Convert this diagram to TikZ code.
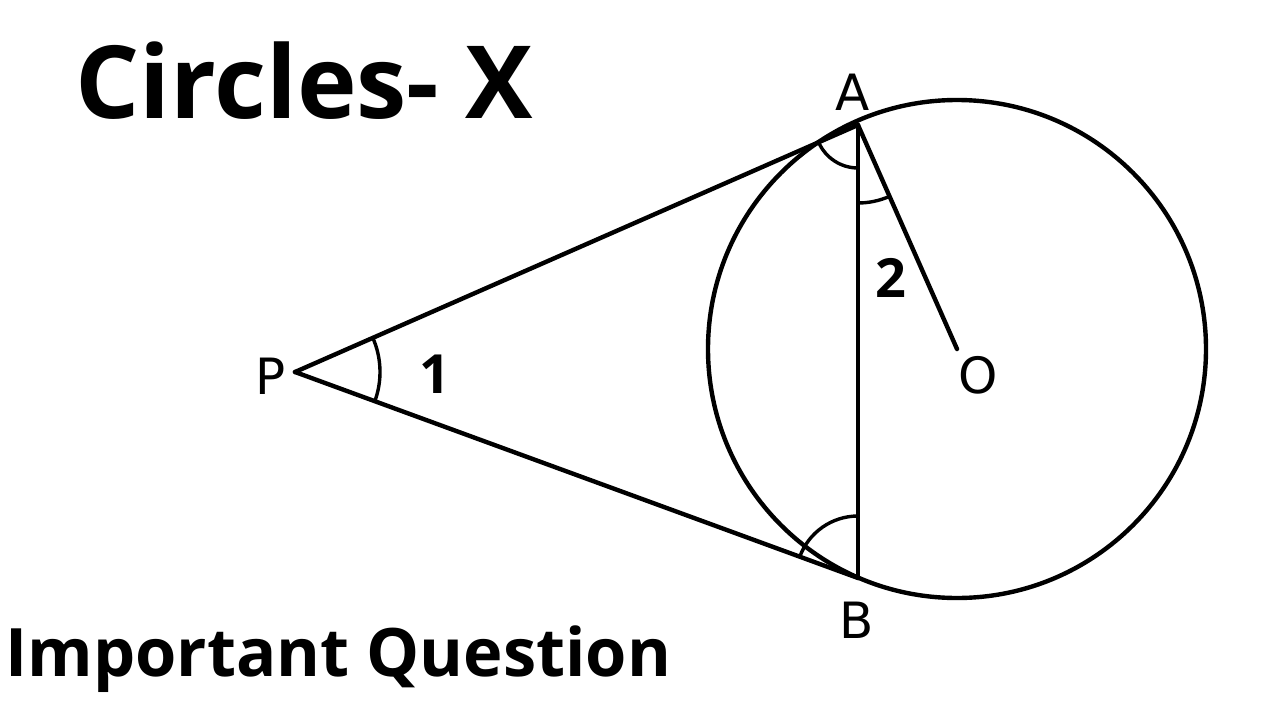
\documentclass[tikz,border=0pt]{standalone}
\usepackage{fontspec}
\setsansfont{Open Sans}
\newfontfamily\pointfont{DejaVu Sans}
\usetikzlibrary{angles}

\begin{document}
\begin{tikzpicture}[x=0.5pt, y=0.5pt,
    figline/.style={line width=2.2pt, line cap=round, line join=round},
    anglemark/.style={draw, line width=1.7pt},
    ptlabel/.style={inner sep=0pt, font=\pointfont\fontsize{25}{25}\selectfont},
    numlabel/.style={inner sep=0pt, font=\sffamily\bfseries\fontsize{27}{27}\selectfont},
    headline/.style={inner sep=0pt, anchor=base west, font=\sffamily\bfseries}]
        \useasboundingbox (0, 0) rectangle (1280, 720);
        % points of the figure
        \coordinate (P) at (295, 348);
        \coordinate (A) at (858, 595);
        \coordinate (B) at (858, 142);
        \coordinate (O) at (957, 371);
        % circle, tangents, chord and radius
        \draw[figline] (O) circle[radius=249];
        \draw[figline] (P) -- (A);
        \draw[figline] (P) -- (B);
        \draw[figline] (A) -- (B);
        \draw[figline] (A) -- (O);
        % angle marks
        \pic[anglemark, angle radius=42.5pt] {angle = B--P--A};
        \pic[anglemark, angle radius=21.5pt] {angle = P--A--B};
        \pic[anglemark, angle radius=39pt]   {angle = B--A--O};
        \pic[anglemark, angle radius=31pt]   {angle = A--B--P};
        % point labels
        \node[ptlabel] (lblP) at (271, 344) {P};
        \node[ptlabel] (lblA) at (853, 628) {A};
        \node[ptlabel] (lblB) at (857, 100) {B};
        \node[ptlabel] (lblO) at (978, 345) {O};
        \node[numlabel] (ang1) at (435, 346) {1};
        \node[numlabel] (ang2) at (891, 442) {2};
        % headings
        \node[headline, font=\sffamily\bfseries\fontsize{50.5}{50}\selectfont] (title) at (75, 602) {Circles- X};
        \node[headline, font=\sffamily\bfseries\fontsize{33.4}{34}\selectfont] (subtitle) at (5, 44) {Important Question};
\end{tikzpicture}
\end{document}
